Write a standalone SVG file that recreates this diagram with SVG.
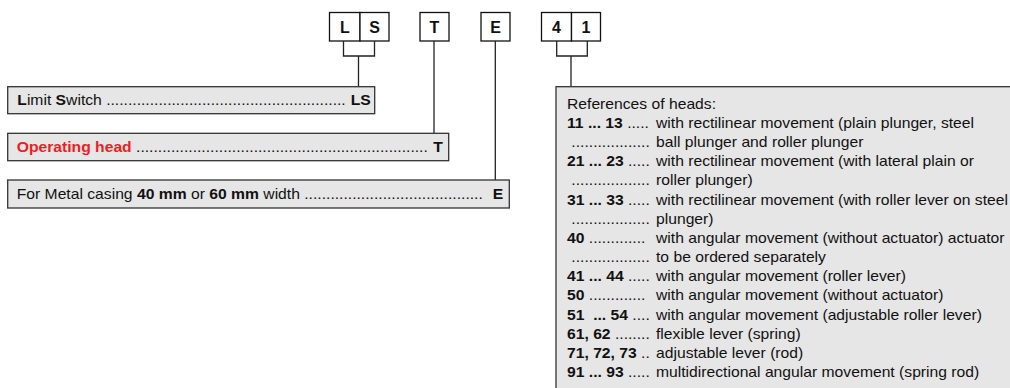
<svg xmlns="http://www.w3.org/2000/svg" width="1010" height="388" viewBox="0 0 1010 388">
<style>
.bg{fill:#ffffff}
.cell{fill:#ffffff;stroke:#111;stroke-width:1.3}
.cl{font-family:"Liberation Sans",Arial,sans-serif;font-size:16px;font-weight:bold;fill:#111;text-anchor:middle}
.box{fill:#e6e6e6;stroke:#333;stroke-width:1.3}
.t{font-family:"Liberation Sans",Arial,sans-serif;font-size:14px;fill:#111;white-space:pre}
.b{font-weight:bold}
.red{fill:#f01c24;font-weight:bold}
.con{fill:none;stroke:#222;stroke-width:1.3}
</style>
<rect class="bg" x="0" y="0" width="1010" height="388"/>

<g id="code-LS">
<rect class="cell" x="329.5" y="12.5" width="30.5" height="28.5"/>
<rect class="cell" x="360" y="12.5" width="29" height="28.5"/>
<text class="cl" x="345" y="32.5">L</text>
<text class="cl" x="374.5" y="32.5">S</text>
</g>
<g id="code-T">
<rect class="cell" x="420" y="12.5" width="29" height="28.5"/>
<text class="cl" x="434.5" y="32.5">T</text>
</g>
<g id="code-E">
<rect class="cell" x="481" y="12.5" width="29" height="28.5"/>
<text class="cl" x="495.5" y="32.5">E</text>
</g>
<g id="code-41">
<rect class="cell" x="541.5" y="12.5" width="30" height="28.5"/>
<rect class="cell" x="571.5" y="12.5" width="29" height="28.5"/>
<text class="cl" x="556.5" y="32.5">4</text>
<text class="cl" x="586" y="32.5">1</text>
</g>

<g id="connectors">
<path class="con" d="M343.5,41 V56 H374.5 V41 M358.5,56 V86.7"/>
<path class="con" d="M434,41 V133.3"/>
<path class="con" d="M495.3,41 V180"/>
<path class="con" d="M556.7,41 V56 H587.3 V41 M571,56 V86.7"/>
</g>

<g id="box-LS">
<rect class="box" x="7.7" y="86.7" width="367" height="27"/>
<text class="t" transform="translate(17.3,104.7) scale(1.12,1)"><tspan class="b">L</tspan>imit <tspan class="b">S</tspan>witch .......................................................</text>
<text class="t b" transform="translate(350.7,104.7) scale(1.12,1)">LS</text>
</g>

<g id="box-T">
<rect class="box" x="7.7" y="133.3" width="441" height="27.4"/>
<text class="t" transform="translate(16.7,151.7) scale(1.12,1)"><tspan class="red">Operating head</tspan> ...................................................................</text>
<text class="t b" transform="translate(433.3,151.7) scale(1.12,1)">T</text>
</g>

<g id="box-E">
<rect class="box" x="7.7" y="180" width="501.6" height="28"/>
<text class="t" transform="translate(16.7,198.8) scale(1.12,1)">For Metal casing <tspan class="b">40 mm</tspan> or <tspan class="b">60 mm</tspan> width .........................................</text>
<text class="t b" transform="translate(492.7,198.8) scale(1.12,1)">E</text>
</g>

<g id="box-heads">
<rect class="box" x="556" y="86.7" width="470" height="320"/>
<text class="t" transform="translate(567,108.7) scale(1.12,1)">References of heads:</text>

<text class="t" transform="translate(567,128) scale(1.12,1)"><tspan class="b">11 ... 13</tspan> .....</text>
<text class="t" transform="translate(656,128) scale(1.12,1)">with rectilinear movement (plain plunger, steel</text>

<text class="t" transform="translate(567,147.1) scale(1.12,1)"> ..................</text>
<text class="t" transform="translate(656,147.1) scale(1.12,1)">ball plunger and roller plunger</text>

<text class="t" transform="translate(567,166.3) scale(1.12,1)"><tspan class="b">21 ... 23</tspan> .....</text>
<text class="t" transform="translate(656,166.3) scale(1.12,1)">with rectilinear movement (with lateral plain or</text>

<text class="t" transform="translate(567,185.4) scale(1.12,1)"> ..................</text>
<text class="t" transform="translate(656,185.4) scale(1.12,1)">roller plunger)</text>

<text class="t" transform="translate(567,204.6) scale(1.12,1)"><tspan class="b">31 ... 33</tspan> .....</text>
<text class="t" transform="translate(656,204.6) scale(1.12,1)">with rectilinear movement (with roller lever on steel</text>

<text class="t" transform="translate(567,223.7) scale(1.12,1)"> ..................</text>
<text class="t" transform="translate(656,223.7) scale(1.12,1)">plunger)</text>

<text class="t" transform="translate(567,242.9) scale(1.12,1)"><tspan class="b">40</tspan> .............</text>
<text class="t" transform="translate(656,242.9) scale(1.12,1)">with angular movement (without actuator) actuator</text>

<text class="t" transform="translate(567,262) scale(1.12,1)"> ..................</text>
<text class="t" transform="translate(656,262) scale(1.12,1)">to be ordered separately</text>

<text class="t" transform="translate(567,281.2) scale(1.12,1)"><tspan class="b">41 ... 44</tspan> .....</text>
<text class="t" transform="translate(656,281.2) scale(1.12,1)">with angular movement (roller lever)</text>

<text class="t" transform="translate(567,300.3) scale(1.12,1)"><tspan class="b">50</tspan> .............</text>
<text class="t" transform="translate(656,300.3) scale(1.12,1)">with angular movement (without actuator)</text>

<text class="t" transform="translate(567,319.5) scale(1.12,1)"><tspan class="b">51  ... 54</tspan> ....</text>
<text class="t" transform="translate(656,319.5) scale(1.12,1)">with angular movement (adjustable roller lever)</text>

<text class="t" transform="translate(567,338.6) scale(1.12,1)"><tspan class="b">61, 62</tspan> ........</text>
<text class="t" transform="translate(656,338.6) scale(1.12,1)">flexible lever (spring)</text>

<text class="t" transform="translate(567,357.8) scale(1.12,1)"><tspan class="b">71, 72, 73</tspan> ..</text>
<text class="t" transform="translate(656,357.8) scale(1.12,1)">adjustable lever (rod)</text>

<text class="t" transform="translate(567,376.9) scale(1.12,1)"><tspan class="b">91 ... 93</tspan> .....</text>
<text class="t" transform="translate(656,376.9) scale(1.12,1)">multidirectional angular movement (spring rod)</text>
</g>
</svg>
